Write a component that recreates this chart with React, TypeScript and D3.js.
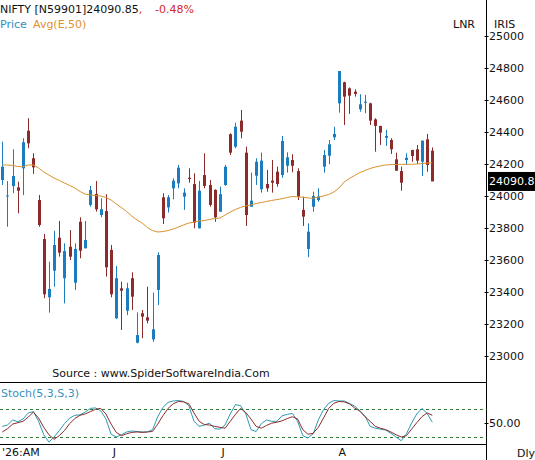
import React from "react";
import * as d3 from "d3";

// OHLC (daily)
const opens = [
	24100, 24000, 24062, 24054, 24173, 24408, 24236, 23975, 23731, 23367,
	23533, 23739, 23486, 23683, 23458, 23839, 23673, 23944, 24013, 23881,
	23906, 23663, 23236, 23423, 23283, 23486, 23083, 23267, 23242, 23104,
	23413, 23992, 23929, 24048, 24079, 23996, 24114, 24075, 23798, 24131,
	24069, 24038, 23902, 24069, 24386, 24308, 24471, 24271, 23933, 24127,
	24042, 24075, 24096, 24152, 24131, 24189, 24225, 24156, 23913, 23669,
	23933, 23975, 24183, 24252, 24367, 24579, 24711, 24673, 24652, 24542,
	24583, 24579, 24479, 24438, 24364, 24350, 24229, 24156, 24225, 24288,
	24292, 24214, 24354, 24283,
];
const highs = [
	24339, 24094, 24292, 24089, 24361, 24486, 24267, 24006, 23763, 23589,
	23783, 23844, 23704, 23787, 23704, 23867, 23844, 24063, 24094, 23986,
	24011, 23694, 23563, 23464, 23458, 23523, 23273, 23288, 23433, 23396,
	23648, 24017, 24006, 24111, 24194, 24048, 24173, 24142, 24094, 24267,
	24100, 24042, 24058, 24194, 24392, 24458, 24538, 24308, 24146, 24236,
	24271, 24163, 24225, 24183, 24375, 24273, 24261, 24173, 23996, 23829,
	24027, 24048, 24288, 24350, 24433, 24781, 24714, 24679, 24667, 24636,
	24631, 24583, 24486, 24438, 24413, 24361, 24271, 24183, 24267, 24288,
	24319, 24346, 24388, 24304,
];
const lows = [
	24069, 23808, 24017, 23892, 24006, 24298, 24138, 23808, 23361, 23271,
	23433, 23621, 23329, 23600, 23413, 23611, 23673, 23933, 23902, 23867,
	23496, 23367, 23231, 23163, 23256, 23288, 23079, 23111, 23204, 23089,
	23319, 23825, 23896, 23979, 24048, 23913, 24083, 23798, 23798, 24048,
	23933, 23839, 23902, 24063, 24256, 24298, 24361, 23813, 23933, 24069,
	24021, 24027, 24021, 24058, 24114, 24146, 24148, 23975, 23813, 23617,
	23902, 23964, 24146, 24198, 24350, 24521, 24444, 24513, 24621, 24527,
	24517, 24444, 24277, 24319, 24313, 24263, 24158, 24033, 24194, 24214,
	24200, 24125, 24152, 24096,
];
const closes = [
	24183, 24003, 24125, 24033, 24336, 24329, 24179, 23819, 23386, 23419,
	23694, 23646, 23656, 23621, 23669, 23658, 23725, 24038, 23917, 23917,
	23554, 23386, 23486, 23408, 23423, 23371, 23131, 23246, 23221, 23167,
	23631, 23861, 23992, 24096, 24177, 24021, 24106, 23833, 24033, 24063,
	23944, 23867, 24011, 24183, 24271, 24433, 24402, 23881, 23971, 24214,
	24221, 24048, 24083, 24075, 24344, 24242, 24189, 23996, 23871, 23777,
	24000, 23996, 24256, 24323, 24388, 24781, 24621, 24627, 24638, 24573,
	24589, 24471, 24438, 24396, 24375, 24292, 24158, 24083, 24239, 24250,
	24221, 24346, 24194, 24090.85,
];

// Avg(E,50) as drawn
const ema50 = [
	24194, 24194, 24191, 24184, 24183, 24194, 24194, 24175, 24150, 24131,
	24112, 24097, 24081, 24066, 24050, 24028, 24012, 24006, 24003, 24000,
	23991, 23975, 23950, 23928, 23903, 23875, 23850, 23831, 23803, 23784,
	23775, 23778, 23784, 23794, 23806, 23819, 23831, 23837, 23844, 23847,
	23853, 23859, 23862, 23881, 23900, 23916, 23929, 23938, 23944, 23953,
	23959, 23966, 23972, 23978, 23983, 23991, 23997, 23995, 23992, 23988,
	23986, 23994, 24000, 24009, 24025, 24050, 24088, 24109, 24128, 24146,
	24159, 24172, 24181, 24188, 24194, 24196, 24197, 24198, 24198, 24198,
	24200, 24203, 24206, 24208,
];

// Stoch(5,3,S,3)
const stochK = [
	42, 45, 56, 52, 58, 71, 74, 53, 24, 8,
	19, 33, 48, 60, 66, 67, 73, 81, 82, 76,
	58, 25, 19, 24, 30, 32, 31, 30, 30, 35,
	63, 83, 94, 97, 98, 96, 87, 53, 42, 45,
	49, 37, 36, 45, 69, 89, 87, 69, 35, 31,
	48, 56, 53, 53, 65, 68, 70, 53, 22, 17,
	26, 56, 78, 92, 98, 97, 97, 92, 86, 76,
	65, 42, 38, 36, 34, 27, 19, 11, 26, 49,
	69, 81, 70, 51,
];
const stochD = [
	30, 37, 47, 50, 53, 62, 73, 60, 40, 24,
	14, 22, 33, 48, 59, 66, 69, 74, 79, 81,
	69, 47, 29, 22, 26, 29, 30, 29, 30, 31,
	47, 65, 81, 91, 96, 95, 91, 71, 53, 46,
	45, 42, 40, 38, 53, 68, 81, 72, 58, 42,
	38, 44, 49, 51, 54, 59, 63, 58, 35, 25,
	27, 40, 60, 81, 92, 96, 95, 91, 82, 75,
	63, 53, 42, 38, 35, 30, 24, 19, 22, 36,
	50, 63, 71, 66,
];

const priceTicks = [23000, 23200, 23400, 23600, 23800, 24000, 24200, 24400, 24600, 24800, 25000];
const monthLabels = [
	{i: 22, label: "J"},
	{i: 43, label: "J"},
	{i: 66, label: "A"},
];

const W = 535;
const H = 460;
const AXIS_X = 486.5;
const FONT = "DejaVu Sans, sans-serif";
const UP = "#1b7dbf";
const DOWN = "#8c2b2b";

const App: React.FC = () => {
	const idx = d3.range(closes.length);
	const x = d3.scaleLinear().domain([0, closes.length - 1]).range([2.3, 432.3]);
	const y = d3.scaleLinear().domain([23000, 25000]).range([356, 36]);
	const ys = d3.scaleLinear().domain([0, 100]).range([445.8, 399.6]);

	const emaLine = d3.line<number>().x((_, i) => x(i)).y((d) => y(d));
	const stochLine = d3.line<number>().x((_, i) => x(i)).y((d) => ys(d));

	const last = closes[closes.length - 1];

	return (
		<div style={{position: "absolute", left: 0, top: 0, background: "#fff"}}>
			<svg width={W} height={H} style={{display: "block", fontFamily: FONT}}>
				<rect width={W} height={H} fill="#fff" />

				{/* header */}
				<text x={0} y={13} fontSize={11} fill="#111">
					NIFTY [N59901]24090.85<tspan fill="#d42a2a">,</tspan>
				</text>
				<text x={155} y={13} fontSize={11} fill="#d42a2a">-0.48%</text>
				<text x={0} y={28} fontSize={11} fill="#2e8fc0">Price</text>
				<text x={33} y={28} fontSize={11} fill="#e0922f">Avg(E,50)</text>
				<text x={475} y={28} fontSize={11} textAnchor="end" fill="#111">LNR</text>
				<text x={494} y={28} fontSize={11} fill="#111">IRIS</text>

				{/* candles */}
				{idx.map((i) => {
					const cx = Math.round(x(i));
					const up = closes[i] >= opens[i];
					const top = y(Math.max(opens[i], closes[i]));
					const bot = y(Math.min(opens[i], closes[i]));
					const col = up ? UP : DOWN;
					return (
						<g key={i}>
							<line
								x1={cx + 0.5}
								x2={cx + 0.5}
								y1={y(highs[i])}
								y2={y(lows[i])}
								stroke={col}
								strokeWidth={1}
							/>
							<rect
								x={cx - 1}
								y={top}
								width={3}
								height={Math.max(1, bot - top)}
								fill={col}
							/>
						</g>
					);
				})}

				<path d={emaLine(ema50) ?? ""} fill="none" stroke="#d9922c" strokeWidth={1} />

				<text x={161} y={377} fontSize={11} textAnchor="middle" fill="#111">
					Source : www.SpiderSoftwareIndia.Com
				</text>

				{/* price axis */}
				<line x1={AXIS_X} x2={AXIS_X} y1={0} y2={H} stroke="#000" />
				{priceTicks.map((t) => (
					<g key={t}>
						<line x1={AXIS_X - 2} x2={AXIS_X + 2} y1={Math.round(y(t)) + 0.5} y2={Math.round(y(t)) + 0.5} stroke="#000" />
						<text x={489} y={y(t)} dy="0.36em" fontSize={11} fill="#111">
							{t}
						</text>
					</g>
				))}
				<rect x={488} y={y(last) - 9.5} width={47} height={19} fill="#000" />
				<text x={489} y={y(last)} dy="0.36em" fontSize={11} fill="#fff">
					24090.8
				</text>

				{/* stoch panel */}
				<line x1={0} x2={AXIS_X} y1={382.5} y2={382.5} stroke="#000" />
				<line x1={0} x2={AXIS_X} y1={444.5} y2={444.5} stroke="#000" />
				<text x={1} y={397} fontSize={11} fill="#3a92bb">Stoch(5,3,S,3)</text>
				{[80, 20].map((v) => (
					<line
						key={v}
						x1={0}
						x2={AXIS_X}
						y1={Math.round(ys(v)) + 0.5}
						y2={Math.round(ys(v)) + 0.5}
						stroke="#2f7d36"
						strokeDasharray="3,3"
					/>
				))}
				<path d={stochLine(stochK) ?? ""} fill="none" stroke="#2b9cb2" strokeWidth={1} />
				<path d={stochLine(stochD) ?? ""} fill="none" stroke="#8c2b2b" strokeWidth={1} />
				<line x1={AXIS_X - 2} x2={AXIS_X + 2} y1={Math.round(ys(50)) + 0.5} y2={Math.round(ys(50)) + 0.5} stroke="#000" />
				<text x={489} y={ys(50)} dy="0.36em" fontSize={11} fill="#111">50.00</text>

				{/* date labels */}
				<text x={2} y={456} fontSize={11} fill="#111">'26:AM</text>
				{monthLabels.map((m) => (
					<text key={m.i} x={x(m.i) - 2} y={456} fontSize={11} textAnchor="middle" fill="#111">
						{m.label}
					</text>
				))}
				<text x={517} y={457} fontSize={11} fill="#111">Dly</text>
			</svg>
		</div>
	);
};

export default App;
